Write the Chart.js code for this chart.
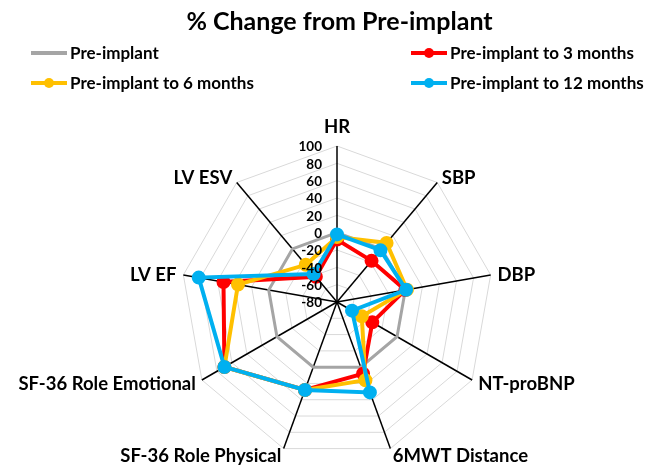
<!DOCTYPE html>
<html>
<head>
<meta charset="utf-8">
<script src="https://cdn.jsdelivr.net/npm/chart.js@4.4.1/dist/chart.umd.min.js"></script>
<style>
  html, body { margin: 0; padding: 0; background: #fff; }
  #wrap { position: relative; width: 649px; height: 466px; overflow: hidden;
          font-family: Lato, "Liberation Sans", sans-serif; font-weight: bold; color: #000; }
  #title { position: absolute; left: 15px; top: 5px; width: 649px; text-align: center; font-size: 25px; }
  .leg { position: absolute; display: flex; align-items: center; font-size: 17px; white-space: nowrap; }
  .leg .ln { position: relative; width: 36px; height: 4px; margin-right: 3px; }
  .leg .dot { position: absolute; left: 13px; top: -3px; width: 10px; height: 10px; border-radius: 50%; }
  canvas { position: absolute; left: 0; top: 0; }
</style>
</head>
<body>
<div id="wrap">
  <canvas id="c" width="649" height="466"></canvas>
  <div id="title">% Change from Pre-implant</div>
  <div id="legend"></div>
</div>
<script>
const categories = ["HR", "SBP", "DBP", "NT-proBNP", "6MWT Distance",
    "SF-36 Role Physical", "SF-36 Role Emotional", "LV EF", "LV ESV"];

const preImplant = [0, 0, 0, 0, 0, 0, 0, 0, 0];
const to3Months = [-8, -18, 0, -33, 8, 28, 70, 53, -42];
const to6Months = [-5, 9, 2, -47, 16, 28, 70, 36, -24];
const to12Months = [-2, -2, 1, -60, 31, 28, 70, 82, -38];

const tickValues = [100, 80, 60, 40, 20, 0, -20, -40, -60, -80];

const seriesNames = ["Pre-implant", "Pre-implant to 3 months",
    "Pre-implant to 6 months", "Pre-implant to 12 months"];
const seriesColors = ["#a5a5a5", "#ff0000", "#ffc000", "#00b0f0"];

// legend, two columns like the original
const legendSpots = [[31, 53], [411, 53], [31, 83], [411, 83]];
const legendBox = document.getElementById("legend");
seriesNames.forEach((name, i) => {
    const item = document.createElement("div");
    item.className = "leg";
    item.style.left = legendSpots[i][0] + "px";
    item.style.top = (legendSpots[i][1] - 11) + "px";
    const ln = document.createElement("span");
    ln.className = "ln";
    ln.style.background = seriesColors[i];
    if (i > 0) {
        const dot = document.createElement("span");
        dot.className = "dot";
        dot.style.background = seriesColors[i];
        ln.appendChild(dot);
    }
    item.appendChild(ln);
    item.appendChild(document.createTextNode(name));
    legendBox.appendChild(item);
});

const labelFont = "bold 18.5px Lato, 'Liberation Sans', sans-serif";
const tickFont = "bold 13.5px Lato, 'Liberation Sans', sans-serif";

// axis names and value labels drawn off the radial scale
const radarText = {
    id: "radarText",
    afterDraw(chart) {
        const r = chart.scales.r;
        const ctx = chart.ctx;
        ctx.save();
        ctx.fillStyle = "#000";

        ctx.font = tickFont;
        ctx.textAlign = "right";
        ctx.textBaseline = "middle";
        tickValues.forEach(v => {
            const d = r.getDistanceFromCenterForValue(v);
            ctx.fillText(String(v), r.xCenter - 15, r.yCenter - d + 1);
        });

        ctx.font = labelFont;
        categories.forEach((name, i) => {
            const a = r.getIndexAngle(i);
            const s = Math.sin(a);
            if (Math.abs(s) < 0.05) {
                const p = r.getPointPosition(i, r.drawingArea + 10);
                ctx.textAlign = "center";
                ctx.textBaseline = "bottom";
                ctx.fillText(name, p.x, p.y);
            } else {
                const p = r.getPointPosition(i, r.drawingArea + 7);
                ctx.textAlign = s > 0 ? "left" : "right";
                ctx.textBaseline = "middle";
                ctx.fillText(name, p.x, p.y + 1);
            }
        });
        ctx.restore();
    }
};

const seriesData = [preImplant, to3Months, to6Months, to12Months];

new Chart(document.getElementById("c"), {
    type: "radar",
    data: {
        labels: categories,
        datasets: seriesData.map((vals, i) => ({
            label: seriesNames[i],
            data: vals,
            borderColor: seriesColors[i],
            backgroundColor: seriesColors[i],
            pointBackgroundColor: seriesColors[i],
            pointBorderColor: seriesColors[i],
            borderWidth: i === 0 ? 3 : 4,
            pointRadius: i === 0 ? 0 : 5,
            pointHoverRadius: 0,
            fill: false,
            tension: 0,
            order: 4 - i
        }))
    },
    options: {
        responsive: false,
        animation: false,
        layout: {
            padding: { left: 25, right: 0, top: 146, bottom: 8 }
        },
        plugins: {
            legend: { display: false },
            title: { display: false },
            tooltip: { enabled: false }
        },
        scales: {
            r: {
                min: -80,
                max: 100,
                ticks: { display: false, stepSize: 20 },
                pointLabels: { display: false },
                grid: { color: "#d9d9d9", lineWidth: 1 },
                angleLines: { color: "#000", lineWidth: 1.5 }
            }
        }
    },
    plugins: [radarText]
});
</script>
</body>
</html>
